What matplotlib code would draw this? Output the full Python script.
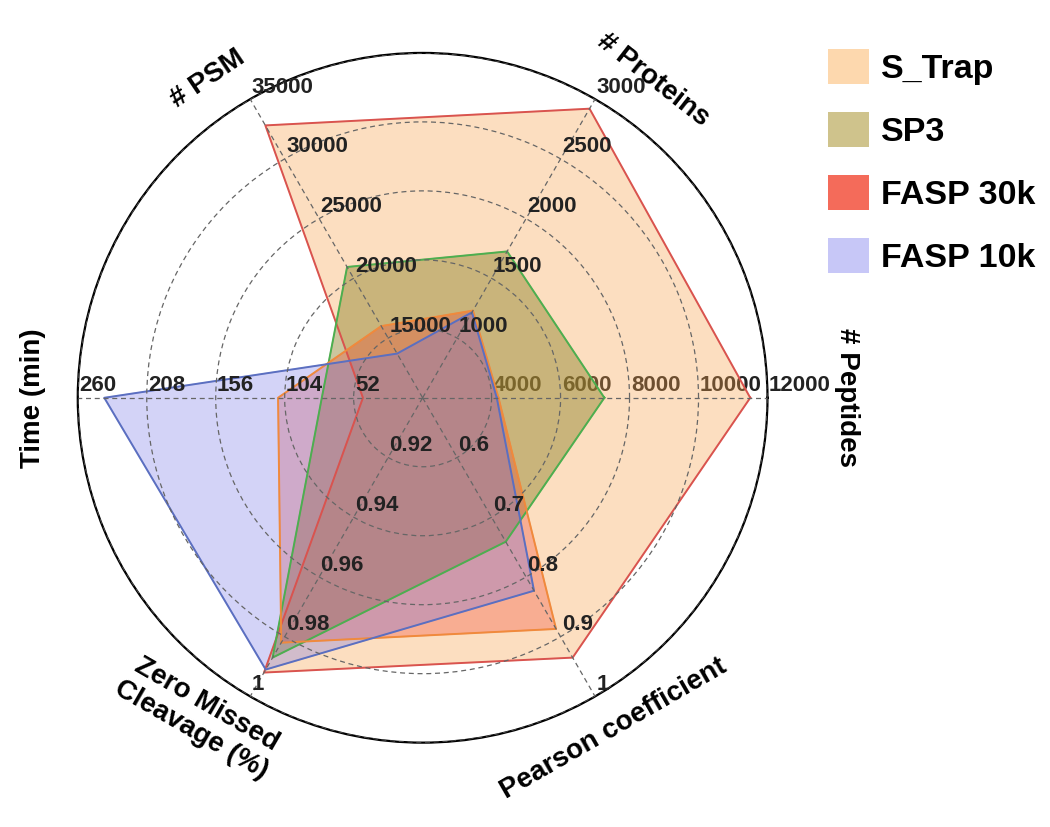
import numpy as np
import matplotlib.pyplot as plt
from matplotlib.patches import Patch

plt.rcParams['font.family'] = ['Liberation Sans', 'DejaVu Sans']

# axes, counter-clockwise starting at 3 o'clock
categories = ['# Peptides', '# Proteins', '# PSM', 'Time (min)',
              'Zero Missed\nCleavage (%)', 'Pearson coefficient']
axis_start = [2000, 500, 10000, 0, 0.90, 0.5]
axis_step = [2000, 500, 5000, 52, 0.02, 0.1]
tick_labels = [
    ['4000', '6000', '8000', '10000', '12000'],
    ['1000', '1500', '2000', '2500', '3000'],
    ['15000', '20000', '25000', '30000', '35000'],
    ['52', '104', '156', '208', '260'],
    ['0.92', '0.94', '0.96', '0.98', '1'],
    ['0.6', '0.7', '0.8', '0.9', '1'],
]

methods = ['S_Trap', 'SP3', 'FASP 30k', 'FASP 10k']
s_trap = [11500, 2920, 32800, 45, 0.992, 0.935]
sp3 = [7270, 1725, 20950, 76, 0.987, 0.741]
fasp_30k = [4200, 1230, 16000, 109, 0.982, 0.887]
fasp_10k = [4150, 1215, 13700, 240, 0.991, 0.823]

fill_colors = ['#F9A24B', '#8C8228', '#F03C28', '#6E6EE6']
fill_alpha = [0.35, 0.45, 0.3, 0.3]
edge_colors = ['#D9534F', '#4CAF50', '#F08A3C', '#5B6FC0']
legend_colors = ['#FDD8AE', '#CFC38C', '#F46B5A', '#C7C7F7']

angles = np.deg2rad([0, 60, 120, 180, 240, 300])

fig = plt.figure(figsize=(10.5, 8.27), dpi=100)
ax = fig.add_axes([0.074, 0.102, 0.657, 0.834], polar=True)
ax.set_ylim(0, 5)
ax.set_rgrids([1, 2, 3, 4, 5], labels=[])
ax.set_thetagrids([0, 60, 120, 180, 240, 300], labels=[])
ax.grid(True, linestyle=(0, (4, 3)), color='#666666', linewidth=0.9)
ax.set_axisbelow(False)
ax.spines['polar'].set_color('black')
ax.spines['polar'].set_linewidth(1.6)

for vals, fc, al, ec in zip([s_trap, sp3, fasp_30k, fasp_10k],
                            fill_colors, fill_alpha, edge_colors):
    r = [(v - s) / st for v, s, st in zip(vals, axis_start, axis_step)]
    th = np.append(angles, angles[0])
    r = np.append(r, r[0])
    ax.fill(th, r, color=fc, alpha=al, zorder=1)
    ax.plot(th, r, color=ec, linewidth=1.4, zorder=2)

# ring values on each spoke
for i, a in enumerate(angles):
    for k, lab in enumerate(tick_labels[i]):
        ax.annotate(lab, xy=(a, k + 1), xytext=(1, 1), textcoords='offset points',
                    ha='left', va='bottom', fontsize=16, fontweight='bold',
                    color='#222222', zorder=0.5 if i == 0 else 4,
                    annotation_clip=False)

# axis titles
label_pos = [(0, 6.16, -90), (54, 5.7, -38), (124, 5.58, 34),
             (180, 5.65, 90), (235, 5.65, -30), (300, 5.54, 30)]
for name, (adeg, rr, rot) in zip(categories, label_pos):
    ax.text(np.deg2rad(adeg), rr, name, ha='center', va='center',
            rotation=rot, rotation_mode='anchor', fontsize=20,
            fontweight='bold', multialignment='center')

handles = [Patch(facecolor=c, edgecolor='none') for c in legend_colors]
leg = fig.legend(handles, methods, loc='upper left',
                 bbox_to_anchor=(828 / 1050, 1 - 49 / 827), frameon=False,
                 borderpad=0, borderaxespad=0,
                 prop={'size': 24.5, 'weight': 'bold'}, handlelength=1.2,
                 handleheight=1.2, labelspacing=0.8, handletextpad=0.35)

fig.savefig('out.png', dpi=100)
